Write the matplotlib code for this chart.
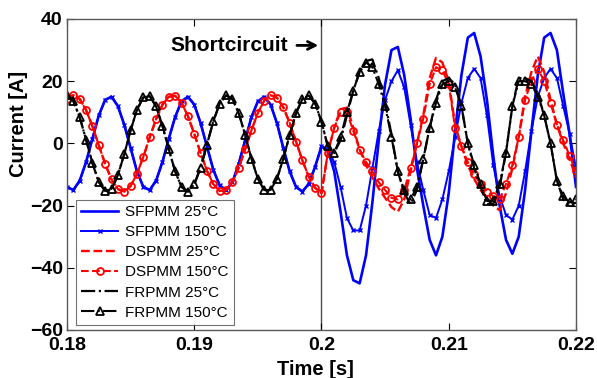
import matplotlib
matplotlib.use('Agg')
import matplotlib.pyplot as plt
import numpy as np

plt.rcParams['font.family'] = ['Liberation Sans', 'DejaVu Sans']

# %% Data (0.5 ms spacing)
t = np.linspace(0.18, 0.22, 81)

# before the short circuit both temperatures overlap
sf_pre = [-14, -15, -12, -6, 1.5, 9, 14, 15, 12, 6, -1.5, -9,
          -14, -15, -12, -6, 1.5, 8.5, 13.5, 15, 12.5, 6.5, -1, -8.5,
          -13.5, -15, -12.5, -6.5, 1, 8.5, 13.5, 15, 12.5, 6.5, -1.5, -9,
          -14, -15.5, -13, -7.5, -1]
ds_pre = [14.3, 15.5, 14.3, 10.7, 5.5, -0.6, -6.6, -11.6, -14.7, -15.5, -13.7,
          -9.8, -4.3, 1.9, 7.8, 12.4, 15.0, 15.3, 13.1, 8.8, 3.1, -3.1, -8.8,
          -13.1, -15.3, -15.0, -12.4, -7.8, -1.9, 4.3, 9.8, 13.7, 15.5, 14.7,
          11.6, 6.6, 0.6, -5.5, -10.7, -14.3, -16]
fr_pre = [15.5, 13.6, 8.4, 1.2, -6.4, -12.4, -15.3, -14.6, -10.2, -3.5, 4.2,
          10.8, 14.8, 15.2, 11.9, 5.7, -1.9, -9.0, -14.0, -15.5, -13.2, -7.8,
          -0.4, 7.1, 12.8, 15.4, 14.3, 9.7, 2.7, -4.9, -11.4, -15.0, -15.0,
          -11.4, -4.9, 2.7, 9.7, 14.3, 15.4, 12.8, 7]

# after the short circuit (0.2005 s .. 0.22 s)
sf25_post = [-2, -9, -22, -36, -44, -45, -36, -19, 1, 19, 30, 31, 22, 8, -8,
             -20, -31, -36, -30, -16, 4, 22, 34, 35.5, 28, 14, -4, -20, -31,
             -35.5, -30, -15, 4, 22, 34, 35.5, 30, 16, 3, -14]
sf150_post = [-2, -6, -14, -24, -28, -28, -20, -8, 4, 14, 20, 23.5, 18, 6, -6,
              -15, -23, -24, -18, -9, 2, 13, 21, 24, 21, 9, -7, -17, -23,
              -24.5, -20, -9, 4, 15, 21, 24, 21, 12, 3, -8]
ds25_post = [-3, 5, 11, 11.5, 5, -2, -7, -11, -14.5, -17.5, -20.5, -22, -18,
             -9, 0, 9, 21, 27.5, 26, 20, 6, -1, -7, -11.5, -15, -17.5, -20,
             -21.5, -16, -8, 2, 15, 23, 28, 23, 14, 6, 0, -5, -11]
ds150_post = [-3, 5, 10, 10, 4, -2, -6, -9, -12.5, -15, -17.5, -18, -15, -8,
              0, 8, 19, 24.5, 23.5, 19, 5, -1, -6, -10, -13, -15.5, -17, -18,
              -13, -7, 2, 14, 20, 24, 20, 13, 6, 1, -4, -9]
fr25_post = [-1, -3, 1, 9, 17, 23, 26.5, 27, 21, 13, 3, -9, -16, -19.5, -15,
             -5, 5, 14, 20, 21, 19, 12, 0, -8, -14, -19.5, -19.5, -14, -3, 12,
             21, 21, 20, 16, 9, 0, -12, -18, -20, -19]
fr150_post = [-1, -3, 2, 10, 17, 23, 26, 24.5, 19, 12, 2, -9, -15, -18, -14,
              -5, 5, 13, 19, 20, 18, 12, 0, -7, -13, -18.5, -18.5, -13, -3, 12,
              20, 20, 19, 15, 9, 0, -12, -17, -19, -18]

labels = ['SFPMM 25°C', 'SFPMM 150°C', 'DSPMM 25°C', 'DSPMM 150°C',
          'FRPMM 25°C', 'FRPMM 150°C']
series = [sf_pre + sf25_post, sf_pre + sf150_post,
          ds_pre + ds25_post, ds_pre + ds150_post,
          fr_pre + fr25_post, fr_pre + fr150_post]
styles = [dict(color='b', ls='-', lw=1.9),
          dict(color='b', ls='-', lw=1.4, marker='x', ms=3.5, mew=1),
          dict(color='r', ls='--', lw=1.7),
          dict(color='r', ls='--', lw=1.5, marker='o', ms=5, mfc='none', mew=1.3),
          dict(color='k', ls='-.', lw=1.6),
          dict(color='k', ls='-.', lw=1.5, marker='^', ms=6, mfc='none', mew=1.3)]

# %% Plot
fig = plt.figure(figsize=(5.97, 3.78), dpi=100)
ax = fig.add_axes([0.1122, 0.127, 0.8526, 0.8228])

for y, name, st in zip(series, labels, styles):
    ax.plot(t, y, label=name, **st)

ax.axvline(0.2, color='0.3', lw=1, zorder=0)
ax.text(0.19737, 31.5, 'Shortcircuit', ha='right', va='center',
        fontsize=15, fontweight='bold')
ax.annotate('', xy=(0.19975, 31.5), xytext=(0.19807, 31.5),
            arrowprops=dict(arrowstyle='->', lw=2, color='k',
                            mutation_scale=14, shrinkA=0, shrinkB=0))

ax.set_xlim(0.18, 0.22)
ax.set_ylim(-60, 40)
ax.set_xticks([0.18, 0.19, 0.2, 0.21, 0.22])
ax.set_xticklabels(['0.18', '0.19', '0.2', '0.21', '0.22'])
ax.set_yticks([-60, -40, -20, 0, 20, 40])
ax.tick_params(direction='in', top=True, right=True, length=5, width=0.8,
               labelsize=14)
ax.tick_params(axis='x', pad=5)
ax.tick_params(axis='y', pad=3)
for tl in ax.get_xticklabels() + ax.get_yticklabels():
    tl.set_fontweight('bold')
for sp in ax.spines.values():
    sp.set_color('0.35')
    sp.set_linewidth(1)

ax.set_xlabel('Time [s]', fontsize=14.5, fontweight='bold')
ax.set_ylabel('Current [A]', fontsize=14.5, fontweight='bold')
ax.xaxis.set_label_coords(0.488, -0.097)
ax.yaxis.set_label_coords(-0.077, 0.662)

leg = ax.legend(loc='lower left', bbox_to_anchor=(0.0177, 0.016),
                borderaxespad=0, fontsize=11, fancybox=False,
                handlelength=2.4, labelspacing=0.4, handletextpad=0.45,
                borderpad=0.35)
leg.get_frame().set_edgecolor('0.3')
leg.get_frame().set_linewidth(0.8)

fig.savefig('out.png', dpi=100)
